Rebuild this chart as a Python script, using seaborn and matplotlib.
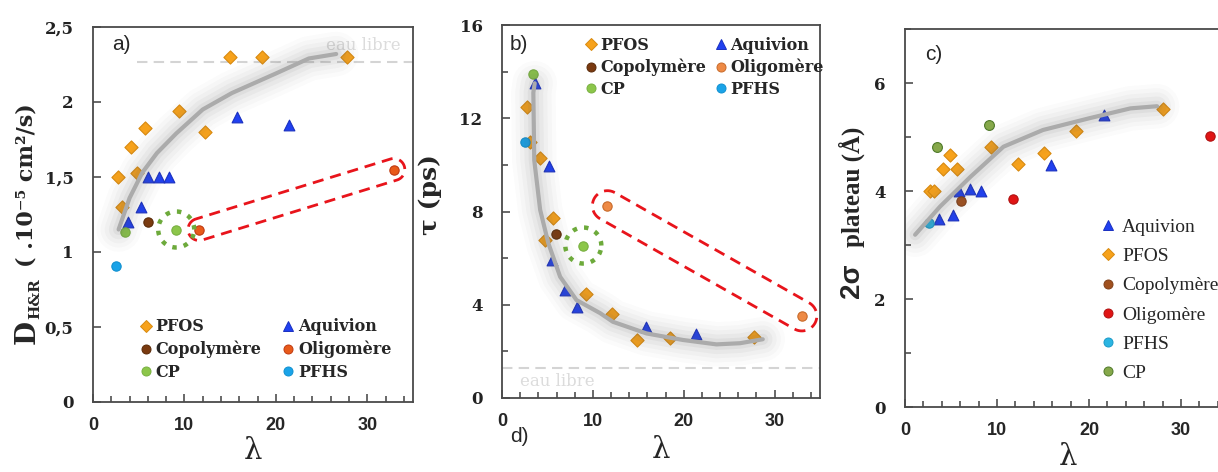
import numpy as np
import pandas as pd
import matplotlib
matplotlib.use("Agg")
import matplotlib.pyplot as plt
import seaborn as sns
from matplotlib.lines import Line2D
from matplotlib.ticker import MultipleLocator, FuncFormatter

sns.set_theme(style="ticks")
plt.rcParams['font.family'] = ['DejaVu Serif']

# ---------------- data : panel a (D H&R vs lambda) ----------------
a_pfos_x = [2.75, 3.15, 4.2, 4.85, 5.7, 9.4, 12.2, 15.0, 18.5, 27.8]
a_pfos_y = [1.50, 1.30, 1.70, 1.53, 1.83, 1.94, 1.80, 2.30, 2.30, 2.30]
a_aqui_x = [3.8, 5.3, 6.0, 7.2, 8.3, 15.8, 21.4]
a_aqui_y = [1.20, 1.30, 1.50, 1.50, 1.50, 1.90, 1.85]
a_copo_x = [6.0]
a_copo_y = [1.20]
a_olig_x = [11.6, 32.9]
a_olig_y = [1.15, 1.55]
a_cp_x = [3.55, 9.1]
a_cp_y = [1.135, 1.15]
a_pfhs_x = [2.57]
a_pfhs_y = [0.91]
a_fit_x = [2.8, 4.0, 5.4, 7.0, 9.1, 12.0, 15.2, 20.0, 23.6, 26.6]
a_fit_y = [1.15, 1.36, 1.53, 1.66, 1.79, 1.95, 2.06, 2.19, 2.29, 2.32]
a_eau = 2.265

# ---------------- data : panel b (tau vs lambda) ----------------
b_pfos_x = [2.7, 3.1, 4.2, 5.6, 4.7, 9.3, 12.1, 14.9, 18.5, 27.7]
b_pfos_y = [12.5, 11.0, 10.28, 7.7, 6.78, 4.47, 3.59, 2.49, 2.59, 2.6]
b_aqui_x = [3.6, 5.2, 5.5, 6.9, 8.2, 15.8, 21.4]
b_aqui_y = [13.5, 9.97, 5.94, 4.63, 3.9, 3.03, 2.73]
b_copo_x = [5.95]
b_copo_y = [7.02]
b_olig_x = [11.6, 33.0]
b_olig_y = [8.25, 3.52]
b_cp_x = [3.45, 8.95]
b_cp_y = [13.9, 6.54]
b_pfhs_x = [2.5]
b_pfhs_y = [11.0]
b_fit_x = [3.6, 3.45, 3.55, 4.2, 5.1, 6.4, 8.2, 10.8, 12.2, 15.9, 19.9, 23.6, 26.2, 28.7]
b_fit_y = [13.5, 13.1, 10.2, 8.07, 6.64, 5.2, 4.2, 3.64, 3.27, 2.77, 2.49, 2.3, 2.35, 2.52]
b_eau = 1.27

# ---------------- data : panel c (2 sigma plateau vs lambda) ----------------
c_pfos_x = [2.7, 3.1, 4.15, 4.9, 5.7, 9.4, 12.25, 15.1, 18.6, 28.0]
c_pfos_y = [4.0, 4.0, 4.40, 4.67, 4.40, 4.81, 4.5, 4.70, 5.11, 5.51]
c_aqui_x = [3.7, 5.25, 5.9, 7.1, 8.3, 15.9, 21.6]
c_aqui_y = [3.49, 3.56, 4.0, 4.04, 4.0, 4.49, 5.41]
c_copo_x = [6.05]
c_copo_y = [3.81]
c_olig_x = [11.7, 33.2]
c_olig_y = [3.85, 5.02]
c_pfhs_x = [2.6]
c_pfhs_y = [3.40]
c_cp_x = [3.5, 9.1]
c_cp_y = [4.82, 5.22]
c_fit_x = [1.1, 3.8, 7.1, 10.7, 15.0, 20.1, 24.5, 27.4]
c_fit_y = [3.19, 3.71, 4.26, 4.82, 5.13, 5.35, 5.53, 5.57]

ORANGE = '#F7A21B'
BLUE = '#2040F0'

fig = plt.figure(figsize=(12.18, 4.72), dpi=100)
W, H = 1218.0, 472.0


def add_ax(l, t, r, b):
    return fig.add_axes([l / W, 1 - b / H, (r - l) / W, (b - t) / H])


axa = add_ax(93, 27, 413, 402)
axb = add_ax(502, 25, 820, 398)
axc = add_ax(905, 29, 1227, 407)

axa.set_xlim(0, 35); axa.set_ylim(0, 2.5)
axb.set_xlim(0, 35); axb.set_ylim(0, 16)
axc.set_xlim(0, 35); axc.set_ylim(0, 7)


def draw_series(ax, x, y, marker, color, edge, s):
    df = pd.DataFrame({'lam': x, 'val': y})
    sns.scatterplot(data=df, x='lam', y='val', ax=ax, marker=marker, color=color,
                    edgecolor=edge, linewidth=0.8, s=s, zorder=3, legend=False)


def draw_fit(ax, x, y):
    for lw, al in [(32, 0.022), (26, 0.03), (20, 0.04), (14, 0.055), (8, 0.07)]:
        ax.plot(x, y, color='#606060', lw=lw, alpha=al, solid_capstyle='round',
                solid_joinstyle='round', zorder=4)
    ax.plot(x, y, color='#ABABAB', lw=3.0, solid_capstyle='round', zorder=5)


def capsule(ax, p1, p2, r):
    d1 = ax.transData.transform(p1)
    d2 = ax.transData.transform(p2)
    v = d2 - d1
    ang = np.arctan2(v[1], v[0])
    t1 = np.linspace(ang + np.pi / 2, ang + 3 * np.pi / 2, 30)
    t2 = np.linspace(ang - np.pi / 2, ang + np.pi / 2, 30)
    pts = np.vstack([d1 + r * np.c_[np.cos(t1), np.sin(t1)],
                     d2 + r * np.c_[np.cos(t2), np.sin(t2)]])
    pts = np.vstack([pts, pts[:1]])
    dat = ax.transData.inverted().transform(pts)
    ax.plot(dat[:, 0], dat[:, 1], color='#E8141B', lw=2, ls=(0, (4, 2.5)), zorder=6)


def ring(ax, p, r):
    d = ax.transData.transform(p)
    t = np.linspace(0, 2 * np.pi, 80)
    pts = d + r * np.c_[np.cos(t), np.sin(t)]
    dat = ax.transData.inverted().transform(pts)
    ax.plot(dat[:, 0], dat[:, 1], color='#6DAA3B', lw=3.2, ls=(0, (1, 1.6)), zorder=6)


# ---------------- panel a ----------------
draw_series(axa, a_pfos_x, a_pfos_y, 'D', ORANGE, '#D88A10', 45)
draw_series(axa, a_aqui_x, a_aqui_y, '^', BLUE, '#1A30C0', 60)
draw_series(axa, a_copo_x, a_copo_y, 'o', '#7A3A10', '#5A2A08', 45)
draw_series(axa, a_olig_x, a_olig_y, 'o', '#E85A1A', '#C03A10', 45)
draw_series(axa, a_cp_x, a_cp_y, 'o', '#8CC64A', '#78B040', 45)
draw_series(axa, a_pfhs_x, a_pfhs_y, 'o', '#1AA3E8', '#1090D0', 45)
draw_fit(axa, a_fit_x, a_fit_y)
axa.plot([4.8, 35], [a_eau, a_eau], color='#D4D4D4', lw=1.5, ls=(0, (5, 3)), zorder=2)
axa.text(25.5, 2.38, 'eau libre', color='#DCDCDC', fontsize=12, va='center', ha='left')
capsule(axa, (a_olig_x[0], a_olig_y[0]), (a_olig_x[1], a_olig_y[1]), 11)
ring(axa, (a_cp_x[1], a_cp_y[1]), 18)

# ---------------- panel b ----------------
draw_series(axb, b_pfos_x, b_pfos_y, 'D', ORANGE, '#D88A10', 45)
draw_series(axb, b_aqui_x, b_aqui_y, '^', BLUE, '#1A30C0', 60)
draw_series(axb, b_copo_x, b_copo_y, 'o', '#7A3A10', '#5A2A08', 45)
draw_series(axb, b_olig_x, b_olig_y, 'o', '#EE8A45', '#C86A2A', 45)
draw_series(axb, b_cp_x, b_cp_y, 'o', '#8CC64A', '#78B040', 45)
draw_series(axb, b_pfhs_x, b_pfhs_y, 'o', '#1AA3E8', '#1090D0', 45)
draw_fit(axb, b_fit_x, b_fit_y)
axb.plot([0, 35], [b_eau, b_eau], color='#D4D4D4', lw=1.5, ls=(0, (5, 3)), zorder=2)
axb.text(2.0, 0.7, 'eau libre', color='#DCDCDC', fontsize=12, va='center', ha='left')
capsule(axb, (b_olig_x[0], b_olig_y[0]), (b_olig_x[1], b_olig_y[1]), 15)
ring(axb, (b_cp_x[1], b_cp_y[1]), 18)

# ---------------- panel c ----------------
draw_series(axc, c_pfos_x, c_pfos_y, 'D', ORANGE, '#D88A10', 45)
draw_series(axc, c_aqui_x, c_aqui_y, '^', BLUE, '#1A30C0', 60)
draw_series(axc, c_copo_x, c_copo_y, 'o', '#A0501E', '#80401A', 45)
draw_series(axc, c_olig_x, c_olig_y, 'o', '#E01414', '#B01010', 45)
draw_series(axc, c_pfhs_x, c_pfhs_y, 'o', '#2BB5E2', '#1A9AC8', 45)
draw_series(axc, c_cp_x, c_cp_y, 'o', '#86A84A', '#4F7A2A', 50)
draw_fit(axc, c_fit_x, c_fit_y)

# ---------------- axes styling ----------------
comma = FuncFormatter(lambda v, p: f"{v:g}".replace('.', ','))
for ax, ymaj, ymin in [(axa, 0.5, 0.5), (axb, 4, 2), (axc, 2, 1)]:
    ax.xaxis.set_major_locator(MultipleLocator(10))
    ax.xaxis.set_minor_locator(MultipleLocator(2))
    ax.yaxis.set_major_locator(MultipleLocator(ymaj))
    ax.yaxis.set_minor_locator(MultipleLocator(ymin))
    ax.yaxis.set_major_formatter(comma)
    ax.tick_params(which='both', direction='in', top=False, right=False,
                   color='#404040', width=1.1)
    ax.tick_params(which='major', length=6)
    ax.tick_params(axis='x', which='major', pad=11)
    ax.tick_params(axis='y', which='major', pad=14)
    ax.tick_params(which='minor', length=4)
    for sp in ax.spines.values():
        sp.set_color('#4A4A4A')
        sp.set_linewidth(1.3)
    for lab in ax.get_xticklabels():
        lab.set_fontfamily('Liberation Sans')
        lab.set_fontweight('bold')
        lab.set_fontsize(13)
    for lab in ax.get_yticklabels():
        lab.set_fontfamily('DejaVu Serif')
        lab.set_fontweight('bold')
        lab.set_fontsize(12)
        lab.set_color('#222222')
    ax.set_xlabel('λ', fontsize=21, fontfamily='DejaVu Serif')
    ax.set_ylabel('')

axa.xaxis.set_label_coords(0.5, -0.093)
axb.xaxis.set_label_coords(0.5, -0.102)
axc.xaxis.set_label_coords(0.506, -0.094)

# y labels
fig.text(27 / W, 1 - 332 / H, 'D', rotation=90, ha='center', va='center',
         fontsize=20, fontweight='bold')
fig.text(35 / W, 1 - 299 / H, 'H&R', rotation=90, ha='center', va='center',
         fontsize=11, fontweight='bold')
fig.text(27 / W, 1 - 185 / H, '( .10⁻⁵ cm²/s)', rotation=90, ha='center', va='center',
         fontsize=16, fontweight='bold')
axb.set_ylabel('τ (ps)', fontsize=18, fontweight='bold')
axb.yaxis.set_label_coords(-0.19, 0.545)
fig.text(852 / W, 1 - 281 / H, '2σ', rotation=90, ha='center', va='center',
         fontsize=20, fontweight='bold', fontfamily='Liberation Sans')
fig.text(852 / W, 1 - 187 / H, 'plateau (Å)', rotation=90, ha='center', va='center',
         fontsize=18, fontweight='bold', fontfamily='Liberation Serif')

# panel tags
fig.text(112 / W, 1 - 45 / H, 'a)', fontsize=15, fontfamily='Liberation Sans', ha='left', va='center')
fig.text(510 / W, 1 - 45 / H, 'b)', fontsize=15, fontfamily='Liberation Sans', ha='left', va='center')
fig.text(925 / W, 1 - 55 / H, 'c)', fontsize=15, fontfamily='Liberation Sans', ha='left', va='center')
fig.text(510 / W, 1 - 437 / H, 'd)', fontsize=15, fontfamily='Liberation Sans', ha='left', va='center')


# ---------------- legends ----------------
def h(marker, color, edge, ms):
    return Line2D([], [], ls='', marker=marker, color=color, markeredgecolor=edge,
                  markersize=ms, markeredgewidth=0.7)


names_ab = ['PFOS', 'Copolymère', 'CP', 'Aquivion', 'Oligomère', 'PFHS']
hand_a = [h('D', ORANGE, '#D88A10', 6), h('o', '#7A3A10', '#5A2A08', 6.5),
          h('o', '#8CC64A', '#78B040', 6.5), h('^', BLUE, '#1A30C0', 7),
          h('o', '#E85A1A', '#C03A10', 6.5), h('o', '#1AA3E8', '#1090D0', 6.5)]
hand_b = [h('D', ORANGE, '#D88A10', 6), h('o', '#7A3A10', '#5A2A08', 6.5),
          h('o', '#8CC64A', '#78B040', 6.5), h('^', BLUE, '#1A30C0', 7),
          h('o', '#EE8A45', '#C86A2A', 6.5), h('o', '#1AA3E8', '#1090D0', 6.5)]
leg_font = {'family': 'DejaVu Serif', 'weight': 'bold', 'size': 11.5}
axa.legend(hand_a, names_ab, ncol=2, loc='upper left', bbox_to_anchor=(0.12, 0.24),
           frameon=False, prop=leg_font, handletextpad=0.1, columnspacing=1.2,
           labelspacing=0.35, handlelength=1.0, borderaxespad=0)
axb.legend(hand_b, names_ab, ncol=2, loc='upper left', bbox_to_anchor=(0.235, 0.985),
           frameon=False, prop=leg_font, handletextpad=0.1, columnspacing=0.4,
           labelspacing=0.3, handlelength=1.0, borderaxespad=0)

names_c = ['Aquivion', 'PFOS', 'Copolymère', 'Oligomère', 'PFHS', 'CP']
hand_c = [h('^', BLUE, '#1A30C0', 7), h('D', ORANGE, '#D88A10', 6),
          h('o', '#A0501E', '#80401A', 6.5), h('o', '#E01414', '#B01010', 6.5),
          h('o', '#2BB5E2', '#1A9AC8', 6.5), h('o', '#86A84A', '#4F7A2A', 6.5)]
axc.legend(hand_c, names_c, ncol=1, loc='upper left', bbox_to_anchor=(0.575, 0.52),
           frameon=False, prop={'family': 'Liberation Serif', 'size': 14},
           handletextpad=0.25, labelspacing=0.6, handlelength=1.0, borderaxespad=0)

fig.savefig('out.png', dpi=100)
